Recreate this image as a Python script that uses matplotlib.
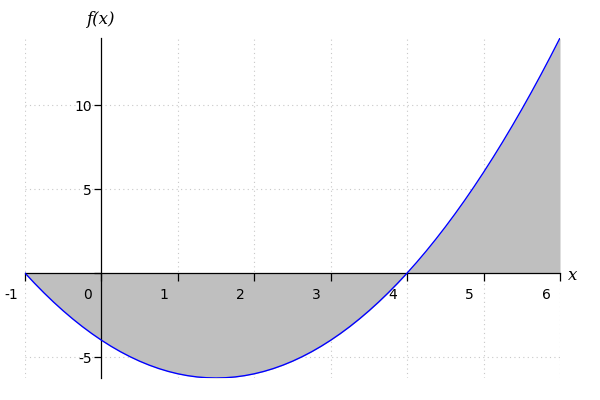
import matplotlib
matplotlib.use("Agg")
import matplotlib.pyplot as plt
import matplotlib.transforms as mtransforms

x_vals = [-1, -0.875, -0.75, -0.625, -0.5, -0.375, -0.25, -0.125, 0, 0.125, 0.25, 0.375,
          0.5, 0.625, 0.75, 0.875, 1, 1.125, 1.25, 1.375, 1.5, 1.625, 1.75, 1.875, 2,
          2.125, 2.25, 2.375, 2.5, 2.625, 2.75, 2.875, 3, 3.125, 3.25, 3.375, 3.5,
          3.625, 3.75, 3.875, 4, 4.125, 4.25, 4.375, 4.5, 4.625, 4.75, 4.875, 5,
          5.125, 5.25, 5.375, 5.5, 5.625, 5.75, 5.875, 6]
y_vals = [0, -0.609, -1.1875, -1.734, -2.25, -2.734, -3.1875, -3.609, -4, -4.359,
          -4.6875, -4.984, -5.25, -5.484, -5.6875, -5.859, -6, -6.109, -6.1875, -6.234,
          -6.25, -6.234, -6.1875, -6.109, -6, -5.859, -5.6875, -5.484, -5.25, -4.984,
          -4.6875, -4.359, -4, -3.609, -3.1875, -2.734, -2.25, -1.734, -1.1875, -0.609,
          0, 0.641, 1.3125, 2.016, 2.75, 3.516, 4.3125, 5.141, 6, 6.891, 7.8125, 8.766,
          9.75, 10.766, 11.8125, 12.891, 14]
x_ticks = [-1, 0, 1, 2, 3, 4, 5, 6]
x_ticklabels = ["-1", "0", "1", "2", "3", "4", "5", "6"]
y_ticks = [-5, 0, 5, 10]
y_ticklabels = ["-5", "", "5", "10"]

fig = plt.figure(figsize=(6, 4), dpi=100)
ax = fig.add_axes([25/600, 22/400, 535/600, 340/400])

ax.fill_between(x_vals, y_vals, 0, color="#bfbfbf", linewidth=0, zorder=1)
ax.plot(x_vals, y_vals, color="blue", linewidth=1, zorder=3)

ax.set_xlim(-1, 6)
ax.set_ylim(-6.25, 14)

for s in ["top", "right"]:
    ax.spines[s].set_visible(False)
ax.spines["left"].set_position(("data", 0))
ax.spines["bottom"].set_position(("data", 0))
ax.spines["left"].set_linewidth(0.9)
ax.spines["bottom"].set_linewidth(0.9)

ax.set_xticks(x_ticks)
ax.set_xticklabels(x_ticklabels)
ax.set_yticks(y_ticks)
ax.set_yticklabels(y_ticklabels)
ax.tick_params(axis="x", direction="out", length=6, width=0.9, labelsize=10, pad=5)
ax.tick_params(axis="y", direction="out", length=5, width=0.9, labelsize=10, pad=2)

offset = mtransforms.ScaledTranslation(-14/100, 0, fig.dpi_scale_trans)
for lab in ax.get_xticklabels():
    lab.set_transform(lab.get_transform() + offset)

# dotted grid (not at zero, where the axes lines are)
grid_kw = dict(linestyle=(0, (1, 3)), color="#c8c8c8", linewidth=0.8, zorder=0.5)
for xt in x_ticks:
    if xt != 0:
        ax.axvline(xt, **grid_kw)
for yt in y_ticks:
    if yt != 0:
        ax.axhline(yt, **grid_kw)

fig.text(100/600, 1 - 20/400, "f(x)", family="DejaVu Serif", style="italic",
         fontsize=12, ha="center", va="center")
fig.text(573/600, 1 - 276/400, "x", family="DejaVu Serif", style="italic",
         fontsize=12, ha="center", va="center")

fig.savefig("out.png", dpi=100)
